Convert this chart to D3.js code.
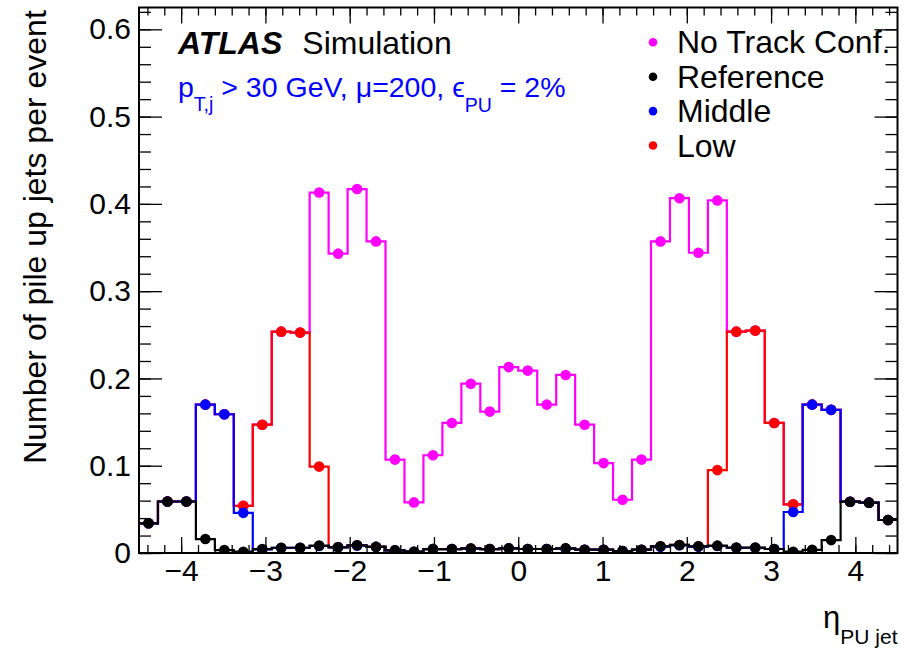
<!DOCTYPE html>
<html>
<head>
<meta charset="utf-8">
<script src="https://cdn.jsdelivr.net/npm/d3@7"></script>
<style>
body { margin: 0; background: #fff; }
text { font-family: "Liberation Sans", Arial, Helvetica, sans-serif; }
</style>
</head>
<body>
<svg id="chart" width="915" height="649"></svg>
<script>
// binning of the eta histogram
var nBins = 40, etaMin = -4.5, etaMax = 4.5;

// number of pile-up jets per event, one value per eta bin
var noTrack = [0.034,0.059,0.059,0.170,0.159,0.054,0.147,0.2536,0.2525,0.413,
               0.343,0.417,0.357,0.107,0.058,0.112,0.149,0.194,0.162,0.213,
               0.209,0.170,0.204,0.147,0.103,0.061,0.107,0.357,0.4065,0.344,
               0.404,0.2536,0.2548,0.149,0.0558,0.170,0.164,0.0588,0.0577,0.0378];
var reference = [0.034,0.059,0.059,0.016,0.0034,0.0015,0.0045,0.006,0.006,0.0085,
                 0.0065,0.0088,0.007,0.003,0.0015,0.0045,0.0045,0.0052,0.0045,0.0053,
                 0.0046,0.0046,0.0053,0.0038,0.0038,0.0022,0.0038,0.0076,0.0092,0.0076,
                 0.0084,0.0062,0.0062,0.0046,0.0015,0.0036,0.0148,0.0588,0.0577,0.0378];
var middle = [0.034,0.059,0.059,0.170,0.159,0.046,0.004,0.0058,0.006,0.008,
              0.0065,0.0085,0.007,0.003,0.0015,0.0045,0.0045,0.005,0.0045,0.0053,
              0.0046,0.0046,0.005,0.0038,0.0038,0.0022,0.0038,0.0072,0.0088,0.0072,
              0.008,0.006,0.006,0.0046,0.047,0.170,0.164,0.0588,0.0577,0.0378];
var low = [0.034,0.059,0.059,0.170,0.159,0.054,0.147,0.2536,0.2525,0.099,
           0.0068,0.0088,0.0072,0.003,0.0015,0.0045,0.0045,0.0052,0.0045,0.0053,
           0.0046,0.0046,0.0053,0.0038,0.0038,0.0022,0.0038,0.0076,0.0092,0.0076,
           0.095,0.2536,0.2548,0.149,0.0558,0.170,0.164,0.0588,0.0577,0.0378];

var xTicks = [-4, -3, -2, -1, 0, 1, 2, 3, 4];
var yTicks = [0, 0.1, 0.2, 0.3, 0.4, 0.5, 0.6];

// drawing order (last on top) and legend order
var series = [
  { name: "No Track Conf.", values: noTrack, color: "#ff00ff" },
  { name: "Low", values: low, color: "#ff0000" },
  { name: "Middle", values: middle, color: "#0000ff" },
  { name: "Reference", values: reference, color: "#000000" }
];
var legendOrder = ["No Track Conf.", "Reference", "Middle", "Low"];

// frame edges (not "top": that name is taken by window.top)
var fL = 139, fR = 897.5, fT = 7.5, fB = 553;
var svg = d3.select("#chart");

var x = d3.scaleLinear().domain([etaMin, etaMax]).range([fL, fR]);
var y = d3.scaleLinear().domain([0, 0.625]).range([fB, fT]);
var binW = (etaMax - etaMin) / nBins;

svg.append("clipPath").attr("id", "clip")
  .append("rect").attr("x", fL).attr("y", fT)
  .attr("width", fR - fL).attr("height", fB - fT);

var plot = svg.append("g").attr("clip-path", "url(#clip)");

var step = d3.line()
  .x(function(d) { return x(d[0]); })
  .y(function(d) { return y(d[1]); })
  .curve(d3.curveStepAfter);

series.forEach(function(s) {
  var pts = s.values.map(function(v, i) { return [etaMin + i * binW, v]; });
  pts.push([etaMax, s.values[s.values.length - 1]]);
  var g = plot.append("g");
  g.append("path").attr("d", step(pts))
    .attr("fill", "none").attr("stroke", s.color).attr("stroke-width", 2.2);
  g.selectAll("circle").data(s.values).enter().append("circle")
    .attr("cx", function(d, i) { return x(etaMin + (i + 0.5) * binW); })
    .attr("cy", function(d) { return y(d); })
    .attr("r", 5.3)
    .attr("fill", s.color);
});

// axes: ticks point into the frame like ROOT
var minorX = d3.range(-4.4, 4.41, 0.2);
var minorY = d3.range(0, 0.621, 0.02);

svg.append("g").attr("transform", "translate(0," + fB + ")")
  .call(d3.axisBottom(x).tickValues(minorX).tickSize(-8).tickFormat(""));
svg.append("g").attr("transform", "translate(0," + fB + ")")
  .call(d3.axisBottom(x).tickValues(xTicks).tickSize(-16).tickPadding(7))
  .attr("class", "xaxis");
svg.append("g").attr("transform", "translate(0," + fT + ")")
  .call(d3.axisBottom(x).tickValues(minorX).tickSize(8).tickFormat(""));
svg.append("g").attr("transform", "translate(0," + fT + ")")
  .call(d3.axisBottom(x).tickValues(xTicks).tickSize(16).tickFormat(""));

svg.append("g").attr("transform", "translate(" + fL + ",0)")
  .call(d3.axisLeft(y).tickValues(minorY).tickSize(-12).tickFormat(""));
svg.append("g").attr("transform", "translate(" + fL + ",0)")
  .call(d3.axisLeft(y).tickValues(yTicks).tickSize(-23).tickPadding(8)
    .tickFormat(function(d) { return d === 0 ? "0" : d3.format(".1f")(d); }))
  .attr("class", "yaxis");
svg.append("g").attr("transform", "translate(" + fR + ",0)")
  .call(d3.axisLeft(y).tickValues(minorY).tickSize(12).tickFormat(""));
svg.append("g").attr("transform", "translate(" + fR + ",0)")
  .call(d3.axisLeft(y).tickValues(yTicks).tickSize(23).tickFormat(""));

svg.selectAll(".domain").remove();
svg.selectAll(".tick line").attr("stroke", "#000").attr("stroke-width", 1.3);
svg.selectAll(".xaxis text, .yaxis text")
  .attr("font-size", 30).attr("fill", "#000")
  .style("font-family", '"Liberation Sans", Arial, sans-serif');

svg.append("rect").attr("x", fL).attr("y", fT)
  .attr("width", fR - fL).attr("height", fB - fT)
  .attr("fill", "none").attr("stroke", "#000").attr("stroke-width", 2);

// axis titles
svg.append("text")
  .attr("transform", "translate(46,237) rotate(-90)")
  .attr("text-anchor", "middle").attr("font-size", 32)
  .text("Number of pile up jets per event");

var xt = svg.append("text").attr("x", fR).attr("y", 628)
  .attr("text-anchor", "end").attr("font-size", 31);
xt.append("tspan").text("η");
xt.append("tspan").attr("font-size", 21).attr("dy", 16).text("PU jet");

// ATLAS label
var atl = svg.append("text").attr("x", 178).attr("y", 54).attr("font-size", 32);
atl.append("tspan").attr("font-weight", "bold").attr("font-style", "italic").text("ATLAS");
atl.append("tspan").attr("dx", 20).text("Simulation");

var info = svg.append("text").attr("x", 178).attr("y", 97)
  .attr("font-size", 28.5).attr("fill", "#0000ff");
info.append("tspan").text("p");
info.append("tspan").attr("font-size", 19.5).attr("dy", 14).text("T,j");
info.append("tspan").attr("dy", -14).text(" > 30 GeV, μ=200, ϵ");
info.append("tspan").attr("font-size", 19.5).attr("dy", 15).text("PU");
info.append("tspan").attr("dy", -15).text(" = 2%");

// legend
var byName = {};
series.forEach(function(s) { byName[s.name] = s; });
legendOrder.forEach(function(n, i) {
  var s = byName[n];
  var yy = 53.3 + i * 34.4;
  svg.append("circle").attr("cx", 653).attr("cy", yy - 11).attr("r", 4.3).attr("fill", s.color);
  svg.append("text").attr("x", 677).attr("y", yy).attr("font-size", 32).text(n);
});
</script>
</body>
</html>
